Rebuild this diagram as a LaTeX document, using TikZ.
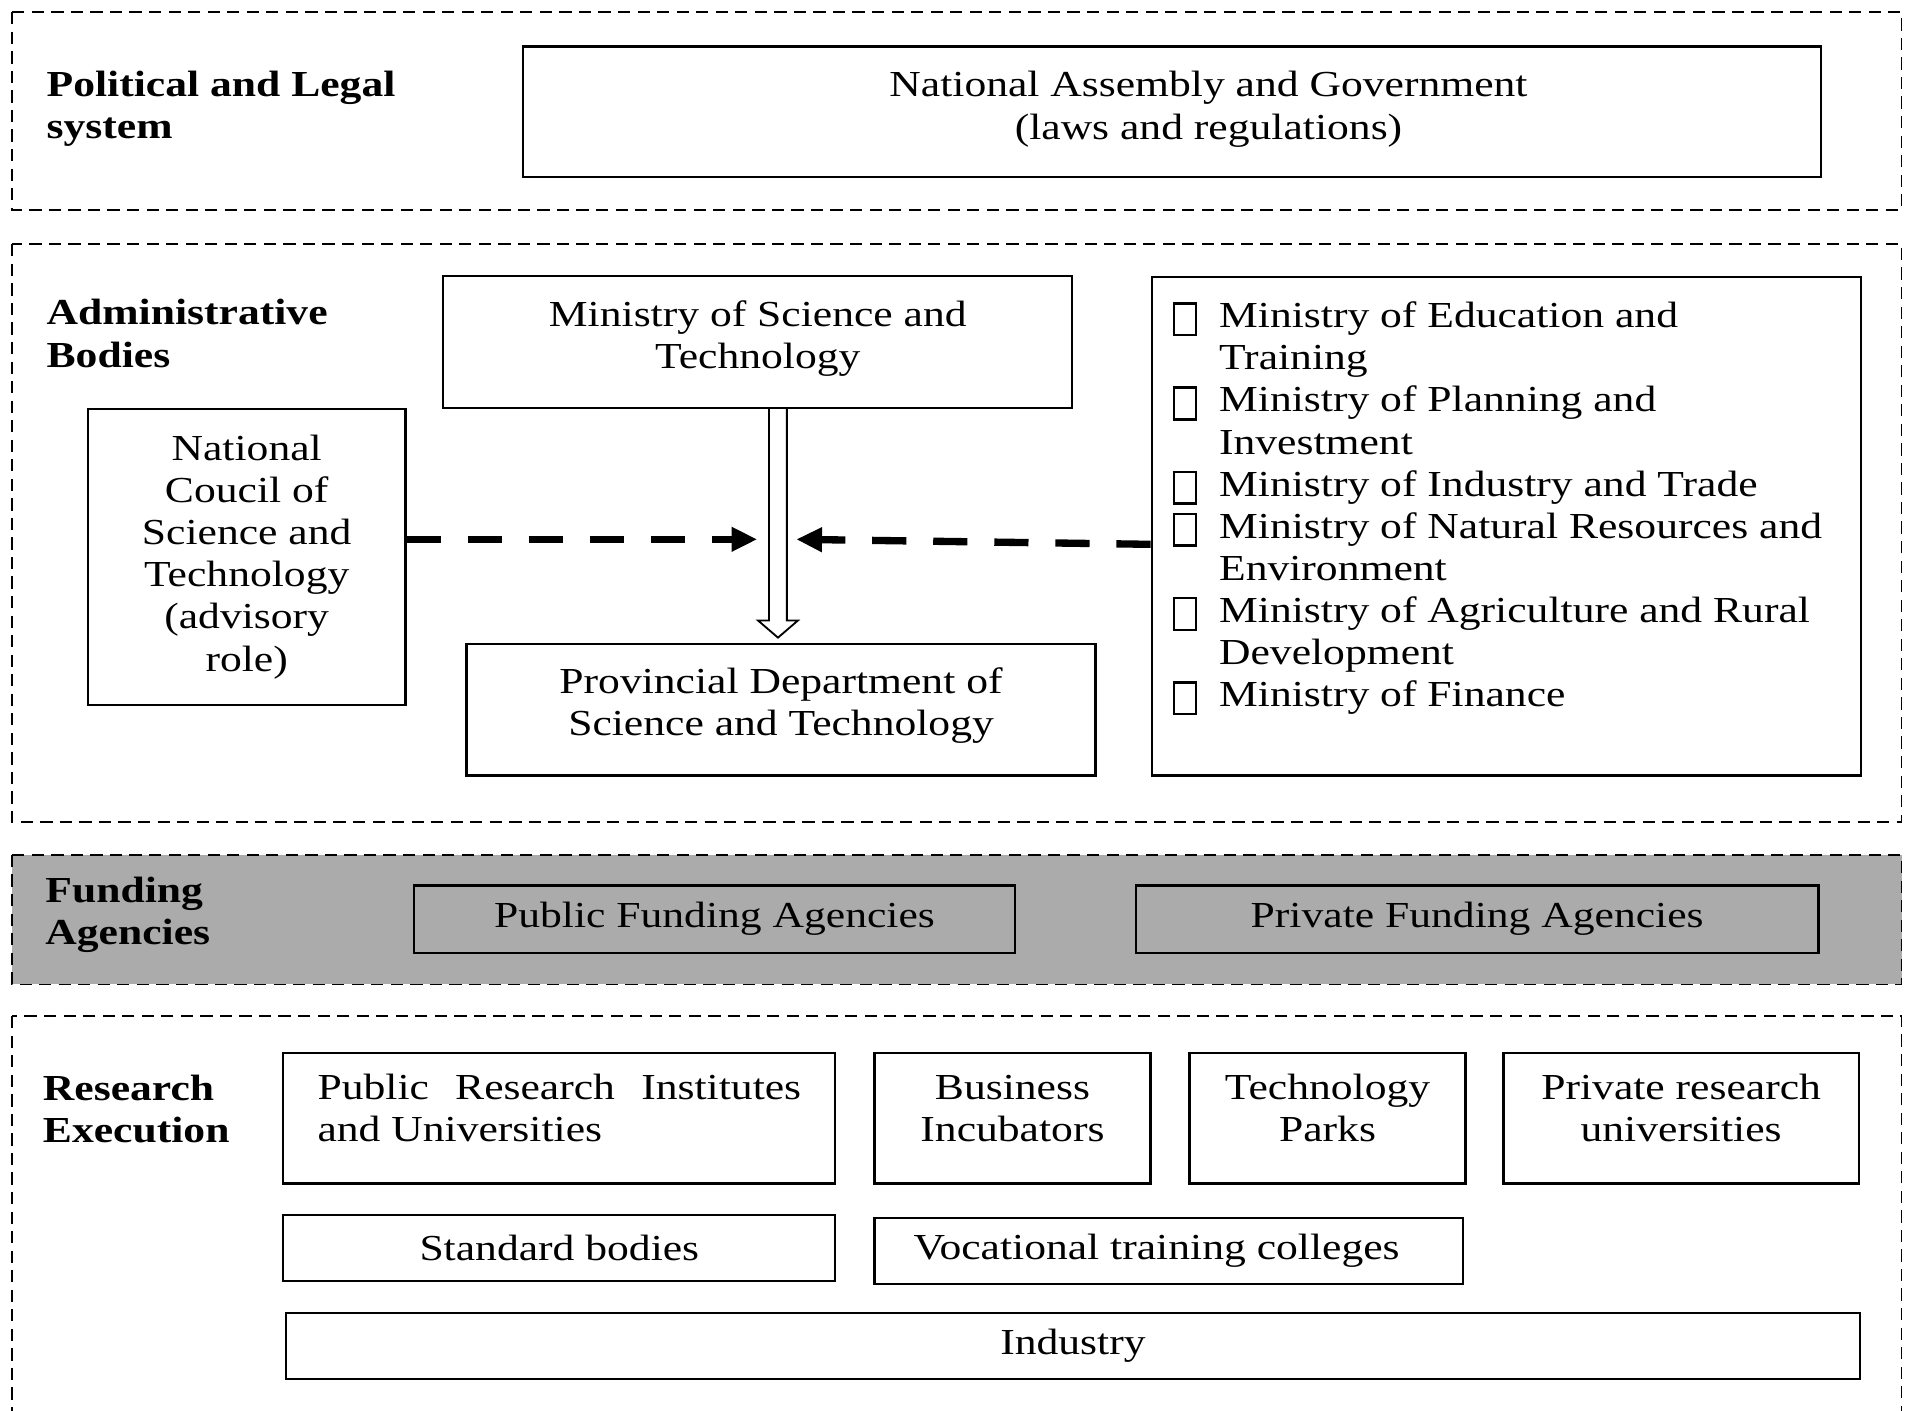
\documentclass[tikz,border=0pt]{standalone}
\usepackage{fontspec}
\setmainfont{Liberation Serif}[FakeStretch=1.19]
\usetikzlibrary{%
	arrows.meta,%
	calc%
}
\definecolor{fundgray}{RGB}{171,171,171}
\newcommand{\tofu}{\makebox[38pt][l]{\raisebox{-5pt}{\setlength{\fboxrule}{2pt}\setlength{\fboxsep}{0pt}\fbox{\rule{0pt}{24pt}\hspace{16pt}}}}}
\newcommand{\hang}{\hspace*{38pt}}
\tikzset{
	layer/.style={line width=1.4pt, dash pattern=on 10pt off 6pt},
	txt/.style={align=center, inner sep=0pt, font=\fontsize{30}{34.5}\selectfont},
	box/.style={txt, draw, line width=1.8pt},
	lbl/.style={anchor=west, align=left, inner sep=0pt,
		font=\fontsize{30}{34.5}\selectfont\bfseries},
	dasharrow/.style={line width=6pt, dash pattern=on 28pt off 22pt,
		-{Triangle[length=21pt,width=19pt]}}
}

\begin{document}
\begin{tikzpicture}[x=1pt,y=-1pt]
				\useasboundingbox (0,0) rectangle (1568,1155);
				\clip (0,0) rectangle (1568,1155);
				
				% Layers
				\draw[layer] (10,10) rectangle (1557,172);
				\draw[layer] (10,200) rectangle (1557,673);
				\draw[layer, fill=fundgray] (10,700) rectangle (1557,806);
				\draw[layer] (10,832) rectangle (1557,1175);
				
				% Layer labels
				\node[lbl] (pol) at (38,89) {Political and Legal\\system};
				\node[lbl] (adm) at (38,273) {Administrative\\Bodies};
				\node[lbl] (fund) at (37,749) {Funding\\Agencies};
				\node[lbl] (res) at (35,908) {Research\\Execution};
				
				% Political and legal system
				\node[box, minimum width=1063, minimum height=107] (assembly) at (959.5,91.5) {};
				\node[txt] (assembly-txt) at ($(assembly.center)+(30,-2)$)
					{National Assembly and Government\\(laws and regulations)};
				
				% Administrative bodies
				\node[box, minimum width=515, minimum height=108] (most) at (620.5,280) {};
				\node[txt] (most-txt) at ($(most.center)+(0,-3)$) {Ministry of Science and\\Technology};
				\node[box, minimum width=260, minimum height=242] (ncst) at (202,456)
					{National\\Coucil of\\Science and\\Technology\\(advisory\\role)};
				\node[box, minimum width=515, minimum height=108] (prov) at (639.5,581) {};
				\node[txt] (prov-txt) at ($(prov.center)+(0,-3)$) {Provincial Department of\\Science and Technology};
				\node[box, minimum width=581, minimum height=408] (mins) at (1233.5,431) {};
				\node[anchor=north west, align=left, inner sep=0pt,
					font=\fontsize{30}{34.5}\selectfont] (minlist) at (960,247)
					{\tofu Ministry of Education and\\
					\hang Training\\
					\tofu Ministry of Planning and\\
					\hang Investment\\
					\tofu Ministry of Industry and Trade\\
					\tofu Ministry of Natural Resources and\\
					\hang Environment\\
					\tofu Ministry of Agriculture and Rural\\
					\hang Development\\
					\tofu Ministry of Finance};
				
				% Arrows
				\coordinate (hub) at (637,441.6);
				\coordinate (lin) at (620,441.6);
				\coordinate (rin) at (652,441.6);
				\coordinate (top) at (hub |- most.south);
				\coordinate (tip) at ($(hub |- prov.north)+(0,-4)$);
				\draw[line width=1.5pt, fill=white] ($(top)+(-7.3,0)$) -- ($(tip)+(-7.3,-14)$)
					-- ($(tip)+(-16.3,-14)$) -- (tip) -- ($(tip)+(16.3,-14)$)
					-- ($(tip)+(7.3,-14)$) -- ($(top)+(7.3,0)$);
				\draw[dasharrow] (ncst.east |- lin) -- (lin);
				\draw[dasharrow] ($(mins.west)+(0,14.7)$) -- (rin);
				
				% Funding agencies
				\node[box, fill=fundgray, minimum width=492, minimum height=55] (pubfund) at (585,752.5)
					{Public Funding Agencies};
				\node[box, fill=fundgray, minimum width=559, minimum height=55] (privfund) at (1209.5,752.5)
					{Private Funding Agencies};
				
				% Research execution
				\foreach \name/\cx/\w in {pri/458/452, bi/829/226, tp/1087/226, pru/1376.5/291}
				\node[box, minimum width=\w, minimum height=107] (\name) at (\cx,915.5) {};
				\node[txt, align=justify, text width=396] (pri-txt) at ($(pri.center)+(0,-8)$)
					{\tolerance=10000 Public Research Institutes and Universities};
				\foreach \name/\txt in {bi/{Business\\Incubators},
					tp/{Technology\\Parks},
					pru/{Private research\\universities}}
				\node[txt] (\name-txt) at ($(\name.center)+(0,-8)$) {\txt};
				\node[box, minimum width=452, minimum height=54] (std) at (458,1022) {Standard bodies};
				\node[box, minimum width=482, minimum height=54] (voc) at (957,1024) {};
				\node[txt] (voc-txt) at ($(voc.center)+(-10,0)$) {Vocational training colleges};
				\node[box, minimum width=1289, minimum height=54] (ind) at (878.5,1102) {Industry};
			\end{tikzpicture}
\end{document}
